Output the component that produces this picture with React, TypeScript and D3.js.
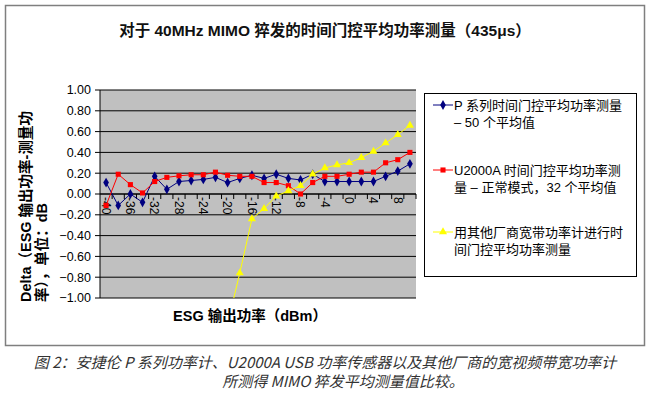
import React from "react";
import * as d3 from "d3";

// ESG output power (dBm), one category every 2 dB
const categories = d3.range(-40, 11, 2);
const pSeries = [0.11, -0.11, 0.0, -0.08, 0.17, 0.045, 0.12, 0.13, 0.14, 0.16, 0.11, 0.15, 0.18, 0.15, 0.19, 0.15, 0.135, 0.19, 0.12, 0.12, 0.12, 0.12, 0.12, 0.17, 0.22, 0.29];
const u2000a = [-0.11, 0.19, 0.09, 0.01, 0.12, 0.16, 0.175, 0.185, 0.185, 0.21, 0.18, 0.17, 0.17, 0.11, 0.11, 0.08, 0.0, 0.11, 0.17, 0.17, 0.19, 0.21, 0.21, 0.3, 0.33, 0.4];
const otherMeter: (number | null)[] = [null, null, null, null, null, null, null, null, null, null, -1.25, -0.76, -0.24, -0.14, -0.02, 0.03, 0.08, 0.19, 0.25, 0.28, 0.3, 0.35, 0.41, 0.49, 0.57, 0.66];
const yTicks = [-1, -0.8, -0.6, -0.4, -0.2, 0, 0.2, 0.4, 0.6, 0.8, 1];

const seriesInfo = [
  { name: ["P 系列时间门控平均功率测量", "– 50 个平均值"], values: pSeries, color: "#000080", fill: "#000080", symbol: d3.symbolDiamond, size: 28, legendY: 105 },
  { name: ["U2000A 时间门控平均功率测", "量 – 正常模式，32 个平均值"], values: u2000a, color: "#ff0000", fill: "#ff0000", symbol: d3.symbolSquare, size: 26, legendY: 170 },
  { name: ["用其他厂商宽带功率计进行时", "间门控平均功率测量"], values: otherMeter, color: "#ffff00", fill: "#ffff00", symbol: d3.symbolTriangle, size: 28, legendY: 232 },
];

const FONT = "'Liberation Sans', Arial, 'Noto Sans CJK SC', sans-serif";

const App: React.FC = () => {
  const W = 650;
  const H = 397;
  const plot = { left: 100, right: 416, top: 90, bottom: 298 };

  const x = d3.scaleBand<number>().domain(categories).range([plot.left, plot.right]).padding(0);
  const cx = (c: number) => (x(c) as number) + x.bandwidth() / 2;
  const y = d3.scaleLinear().domain([-1, 1]).range([plot.bottom, plot.top]);

  const line = d3
    .line<number | null>()
    .defined((d) => d !== null)
    .x((d, i) => cx(categories[i]))
    .y((d) => y(d as number));

  return (
    <svg width={W} height={H} style={{ display: "block", position: "absolute", left: 0, top: 0 }} fontFamily={FONT}>
      <rect x={0} y={0} width={W} height={H} fill="#fff" />
      <rect x={5.5} y={5.5} width={639} height={340} fill="#fff" stroke="#7f7f7f" strokeWidth={1.5} />

      {/* title */}
      <text x={325} y={36} textAnchor="middle" fontSize={15.5} fontWeight="bold" fill="#111">
        对于 40MHz MIMO 猝发的时间门控平均功率测量（435μs）
      </text>

      {/* plot area */}
      <defs>
        <clipPath id="plotClip">
          <rect x={plot.left} y={plot.top} width={plot.right - plot.left} height={plot.bottom - plot.top} />
        </clipPath>
      </defs>
      <rect x={plot.left} y={plot.top} width={plot.right - plot.left} height={plot.bottom - plot.top} fill="#c0c0c0" />
      {yTicks.map((t) => (
        <line key={"g" + t} x1={plot.left} x2={plot.right} y1={y(t)} y2={y(t)} stroke="#000" strokeWidth={1} />
      ))}

      {/* y axis */}
      <line x1={plot.left} x2={plot.left} y1={plot.top} y2={plot.bottom} stroke="#000" />
      {yTicks.map((t) => (
        <g key={"t" + t}>
          <line x1={plot.left - 5} x2={plot.left} y1={y(t)} y2={y(t)} stroke="#000" />
          <text x={plot.left - 9} y={y(t)} dy="0.35em" textAnchor="end" fontSize={12.5} fill="#000">
            {d3.format(".2f")(t)}
          </text>
        </g>
      ))}

      {/* x axis at zero */}
      <line x1={plot.left} x2={plot.right} y1={y(0)} y2={y(0)} stroke="#000" />
      {categories.map((c) => (
        <line key={"xt" + c} x1={(x(c) as number) + x.bandwidth()} x2={(x(c) as number) + x.bandwidth()} y1={y(0)} y2={y(0) + 5} stroke="#000" />
      ))}
      {categories
        .filter((c, i) => i % 2 === 0)
        .map((c) => (
          <text key={"xl" + c} transform={`translate(${cx(c)},${y(0) + 3}) rotate(90)`} dy="0.35em" textAnchor="start" fontSize={12} fill="#000">
            {c}
          </text>
        ))}

      {/* series */}
      <g clipPath="url(#plotClip)">
        {seriesInfo.map((s) => (
          <g key={s.name[0]}>
            <path d={line(s.values) || ""} fill="none" stroke={s.color} strokeWidth={1} />
            {s.values.map((v, i) =>
              v === null ? null : (
                <path key={i} transform={`translate(${cx(categories[i])},${y(v)})`} d={d3.symbol(s.symbol, s.size)() || ""} fill={s.fill} />
              )
            )}
          </g>
        ))}
      </g>

      {/* axis titles */}
      <text transform="translate(31,302) rotate(-90)" fontSize={14.5} fontWeight="bold" fill="#000">
        Delta（ESG 输出功率-测量功
      </text>
      <text transform="translate(47,302) rotate(-90)" fontSize={14.5} fontWeight="bold" fill="#000">
        率），单位：dB
      </text>
      <text x={250} y={321} textAnchor="middle" fontSize={14.5} fontWeight="bold" fill="#000">
        ESG 输出功率（dBm）
      </text>

      {/* legend */}
      <rect x={424.5} y={93.5} width={212} height={183} fill="#fff" stroke="#000" strokeWidth={1} />
      {seriesInfo.map((s) => (
        <g key={"lg" + s.name[0]}>
          <line x1={433} x2={453} y1={s.legendY} y2={s.legendY} stroke={s.color} />
          <path transform={`translate(443,${s.legendY})`} d={d3.symbol(s.symbol, s.size)() || ""} fill={s.fill} />
          <text x={454} y={s.legendY} dy="0.35em" fontSize={13} fill="#000">
            {s.name[0]}
          </text>
          <text x={454} y={s.legendY + 17} dy="0.35em" fontSize={13} fill="#000">
            {s.name[1]}
          </text>
        </g>
      ))}

      {/* caption */}
      <g fontStyle="italic" fill="#333" fontSize={15} fontFamily="'Noto Sans CJK SC', sans-serif">
        <text x={325} y={368} textAnchor="middle">
          图 2：安捷伦 P 系列功率计、U2000A USB 功率传感器以及其他厂商的宽视频带宽功率计
        </text>
        <text x={343} y={387} textAnchor="middle">
          所测得 MIMO 猝发平均测量值比较。
        </text>
      </g>
    </svg>
  );
};

export default App;
